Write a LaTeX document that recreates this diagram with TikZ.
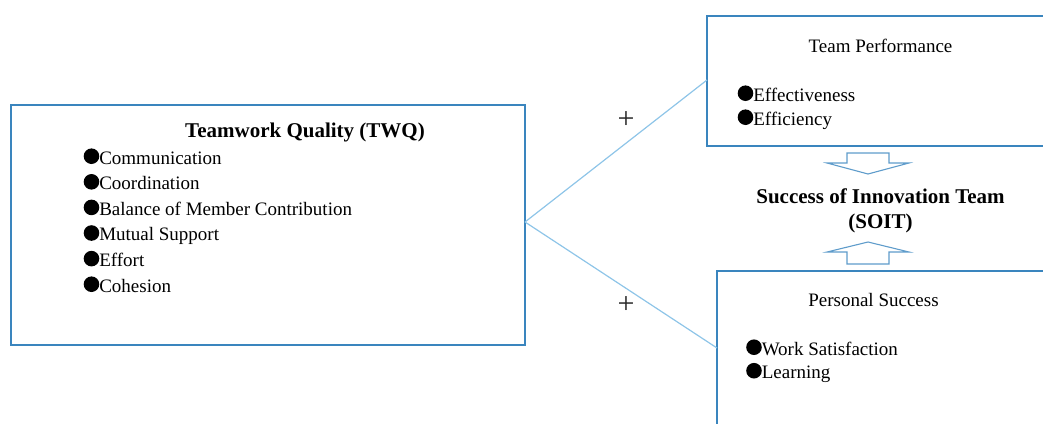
\documentclass[tikz,border=0pt]{standalone}
\usepackage{fontspec}
\setmainfont{Liberation Serif}
\usetikzlibrary{calc}

\definecolor{boxblue}{HTML}{3A85BE}
\definecolor{linkblue}{HTML}{8EC5E8}
\definecolor{arrowblue}{HTML}{5F9CCB}

% round bullet sitting on the baseline, as wide as the gap before the text
\newcommand\dotmark{\tikz[baseline=0pt]\fill[black] (0.41em,0.41em) circle[radius=0.41em];}

\begin{document}
\begin{tikzpicture}[x=1pt,y=-1pt,
  frame/.style={draw=boxblue,line width=1.4pt,rectangle,inner sep=0pt,outer sep=0pt},
  link/.style={draw=linkblue,line width=1.2pt},
  blockarrow/.style={draw=arrowblue,line width=1.1pt,fill=white,line join=miter},
  item/.style={anchor=base west,inner sep=0pt,font=\fontsize{19}{24}\selectfont},
  heading/.style={anchor=base,inner sep=0pt,font=\fontsize{19}{24}\selectfont},
  boldhead/.style={anchor=base,inner sep=0pt,font=\fontsize{21}{25}\selectfont\bfseries},
  sign/.style={inner sep=0pt,text=black!85,font=\fontsize{30}{30}\selectfont}]
\useasboundingbox (0,0) rectangle (1043,423);

% frames
\node[frame,minimum width=514pt,minimum height=240pt] (twq) at (268,225) {};
\node[frame,minimum width=343pt,minimum height=130pt] (perf) at (878.5,81) {};
\node[frame,minimum width=333pt,minimum height=170pt] (pers) at (883.5,356) {};

% teamwork quality
\node[boldhead] (twqtitle) at (305,137) {Teamwork Quality (TWQ)};
\foreach \t [count=\i] in {Communication,Coordination,Balance of Member Contribution,Mutual Support,Effort,Cohesion}
  \node[item] (twq\i) at (83.5,{164+25.6*(\i-1)}) {\dotmark\t};

% team performance
\node[heading] (perftitle) at (880.5,52) {Team Performance};
\node[item] (perf1) at (737.5,101) {\dotmark Effectiveness};
\node[item] (perf2) at (737.5,125) {\dotmark Efficiency};

% personal success
\node[heading] (perstitle) at (873.5,306.5) {Personal Success};
\node[item] (pers1) at (746,355) {\dotmark Work Satisfaction};
\node[item] (pers2) at (746,378.5) {\dotmark Learning};

% overall outcome
\node[boldhead] (soit1) at (880.5,203) {Success of Innovation Team};
\node[boldhead] (soit2) at (880.5,228) {(SOIT)};

% links from teamwork quality to both outcomes
\coordinate (hub) at ([yshift=3pt]twq.east);
\draw[link] (hub) -- ([yshift=-64pt]perf.north west);
\draw[link] (hub) -- ([yshift=-77pt]pers.north west);
\node[sign] (plusup) at (626,120) {+};
\node[sign] (plusdown) at (626,305) {+};

% block arrows pointing at the overall outcome
\draw[blockarrow] (847,153) -- (889,153) -- (889,163) -- (909,163) -- (868,174)
  -- (827,163) -- (847,163) -- cycle;
\draw[blockarrow] (847,264) -- (889,264) -- (889,252) -- (909,252) -- (868,242)
  -- (827,252) -- (847,252) -- cycle;
\end{tikzpicture}
\end{document}
